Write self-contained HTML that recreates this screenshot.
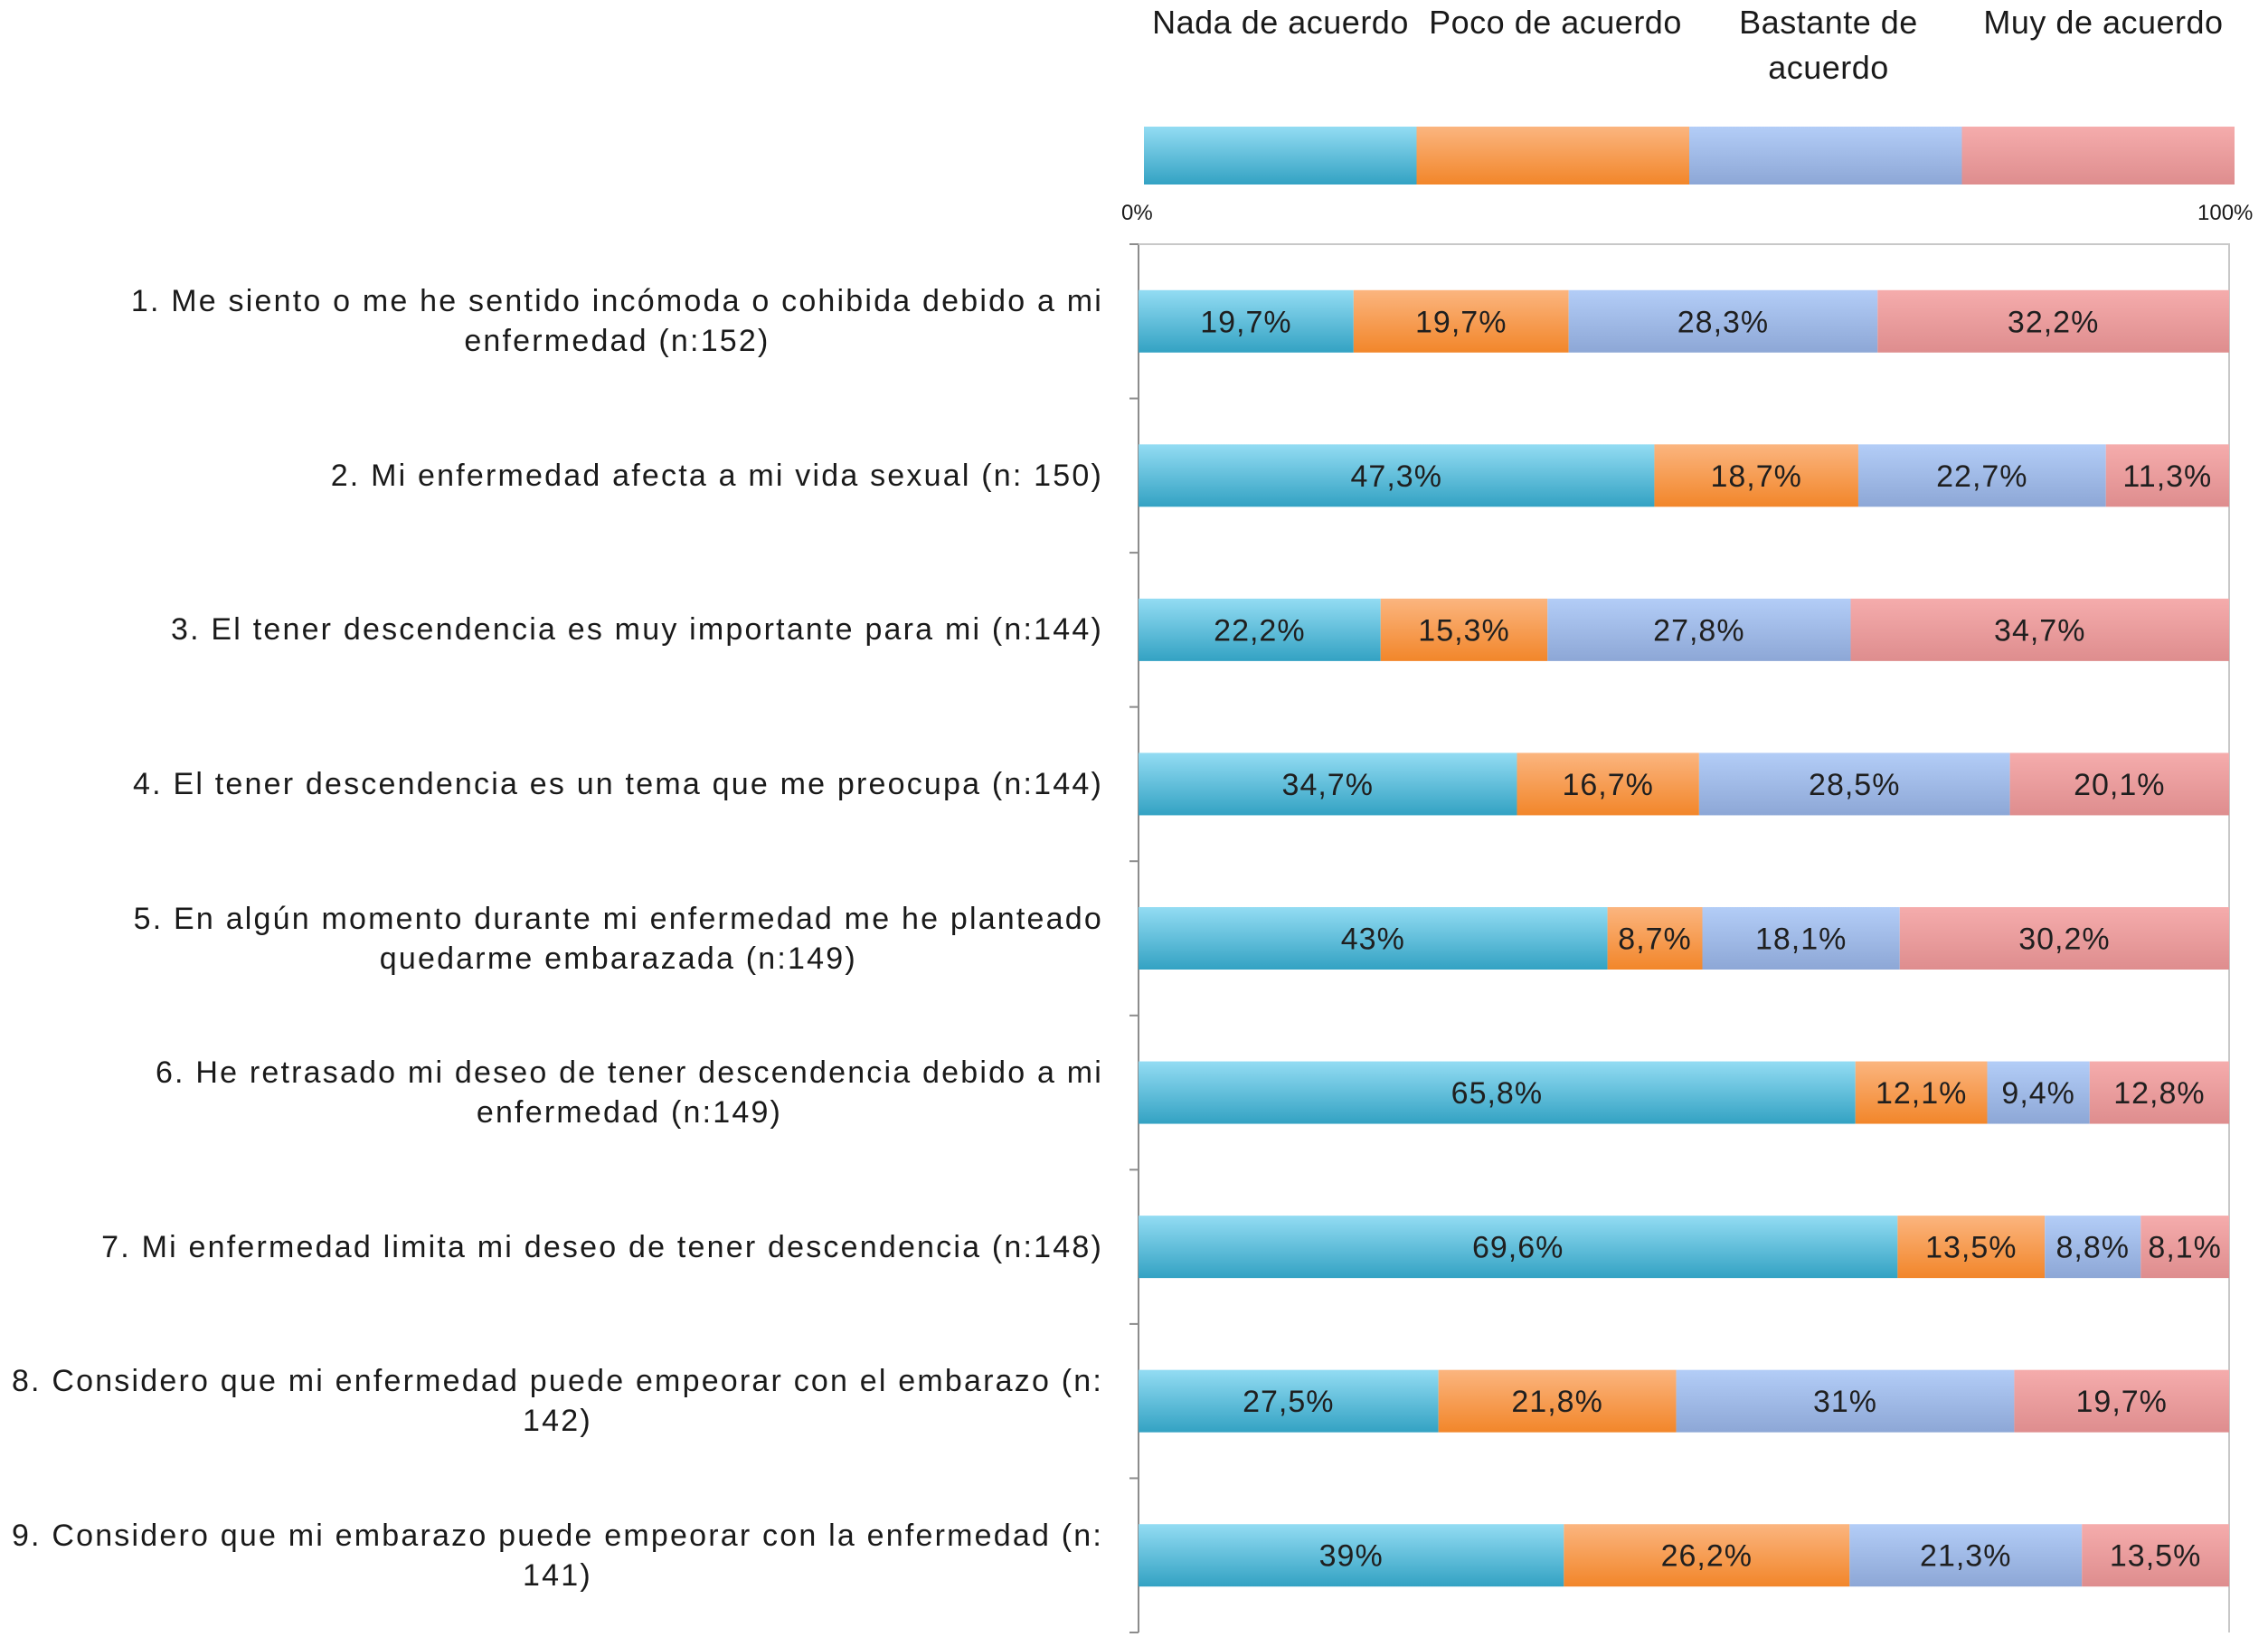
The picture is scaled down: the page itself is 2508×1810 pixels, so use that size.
<!DOCTYPE html>
<html><head><meta charset="utf-8"><style>
html,body{margin:0;padding:0;background:#fff;}
body{width:2508px;height:1810px;position:relative;overflow:hidden;font-family:"Liberation Sans",Arial,sans-serif;color:#1a1a1a;}
.cat{position:absolute;right:1288px;text-align:center;font-size:34px;letter-spacing:2.2px;line-height:44px;white-space:nowrap;transform:translateY(-50%);}
.leg{position:absolute;font-size:36px;letter-spacing:0.5px;line-height:50px;text-align:center;transform:translateX(-50%);white-space:nowrap;}
svg{position:absolute;left:0;top:0;}
</style></head><body>
<svg id="chart" width="2508" height="1810">
<defs>
<linearGradient id="g0" x1="0" y1="0" x2="0" y2="1"><stop offset="0" stop-color="#93dcf3"/><stop offset="1" stop-color="#33a2c3"/></linearGradient>
<linearGradient id="g1" x1="0" y1="0" x2="0" y2="1"><stop offset="0" stop-color="#fbb57f"/><stop offset="1" stop-color="#f2862a"/></linearGradient>
<linearGradient id="g2" x1="0" y1="0" x2="0" y2="1"><stop offset="0" stop-color="#b3cdf7"/><stop offset="1" stop-color="#8da7d6"/></linearGradient>
<linearGradient id="g3" x1="0" y1="0" x2="0" y2="1"><stop offset="0" stop-color="#f5acac"/><stop offset="1" stop-color="#de8d8e"/></linearGradient>
</defs>
</svg>
<div class="leg" style="left:1416px;top:0px;">Nada de acuerdo</div>
<div class="leg" style="left:1720px;top:0px;">Poco de acuerdo</div>
<div class="leg" style="left:2022px;top:0px;">Bastante de<br>acuerdo</div>
<div class="leg" style="left:2326px;top:0px;">Muy de acuerdo</div>
<div style="position:absolute;left:1240px;top:222px;font-size:24px;">0%</div>
<div style="position:absolute;left:2430px;top:222px;font-size:24px;">100%</div>
<script>
const categories=["1. Me siento o me he sentido incómoda o cohibida debido a mi<br>enfermedad (n:152)","2. Mi enfermedad afecta a mi vida sexual (n: 150)","3. El tener descendencia es muy importante para mi (n:144)","4. El tener descendencia es un tema que me preocupa (n:144)","5. En algún momento durante mi enfermedad me he planteado<br>quedarme embarazada (n:149)","6. He retrasado mi deseo de tener descendencia debido a mi<br>enfermedad (n:149)","7. Mi enfermedad limita mi deseo de tener descendencia (n:148)","8. Considero que mi enfermedad puede empeorar con el embarazo (n:<br>142)","9. Considero que mi embarazo puede empeorar con la enfermedad (n:<br>141)"];
const nada=[19.7,47.3,22.2,34.7,43,65.8,69.6,27.5,39];
const poco=[19.7,18.7,15.3,16.7,8.7,12.1,13.5,21.8,26.2];
const bastante=[28.3,22.7,27.8,28.5,18.1,9.4,8.8,31,21.3];
const muy=[32.2,11.3,34.7,20.1,30.2,12.8,8.1,19.7,13.5];
const seriesNames=["nada","poco","bastante","muy"];
const svg=document.getElementById('chart');
const NS='http://www.w3.org/2000/svg';
const L=1259,R=2465,T=270,B=1805;
const band=(B-T)/categories.length, barH=69;
const xs=f=>L+f*(R-L);
const yc=i=>T+band*(i+0.5);
function mk(tag,attrs){const e=document.createElementNS(NS,tag);for(const k in attrs)e.setAttribute(k,attrs[k]);svg.appendChild(e);return e;}
const legX0=1265,legX1=2471;
for(let s=0;s<4;s++){const r=mk('rect',{x:legX0+s*(legX1-legX0)/4,y:140,width:(legX1-legX0)/4,height:64,fill:'url(#g'+s+')'});

}
const ax=mk('line',{x1:L,y1:T,x2:L,y2:B,stroke:'#8c8c8c','stroke-width':2});


const fr=mk('path',{d:`M${L},${T}H${R}V${B}`,stroke:'#c8c8c8','stroke-width':2,fill:'none'});


for(let i=0;i<=categories.length;i++){const t=mk('line',{x1:L-10,x2:L,y1:T+band*i,y2:T+band*i,stroke:'#8c8c8c','stroke-width':2});

}
const data=[nada,poco,bastante,muy];
categories.forEach((c,i)=>{
 const vals=data.map(a=>a[i]);const sum=vals.reduce((a,b)=>a+b,0);
 let acc=0;
 vals.forEach((v,s)=>{
  const x0=xs(acc/sum),x1=xs((acc+v)/sum);acc+=v;
  const r=mk('rect',{x:x0,y:yc(i)-barH/2,width:x1-x0,height:barH,fill:'url(#g'+s+')'});
  
  
  const t=mk('text',{x:(x0+x1)/2,y:yc(i)+12,'text-anchor':'middle','font-size':34,'letter-spacing':1,fill:'#1f1f1f','font-family':'Liberation Sans, sans-serif'});
  t.textContent=String(v).replace('.',',')+'%';
  
  
 });
 const d=document.createElement('div');
 d.className='cat';d.style.top=yc(i)+'px';d.innerHTML=c;
 
 
 document.body.appendChild(d);
});
</script>
</body></html>
